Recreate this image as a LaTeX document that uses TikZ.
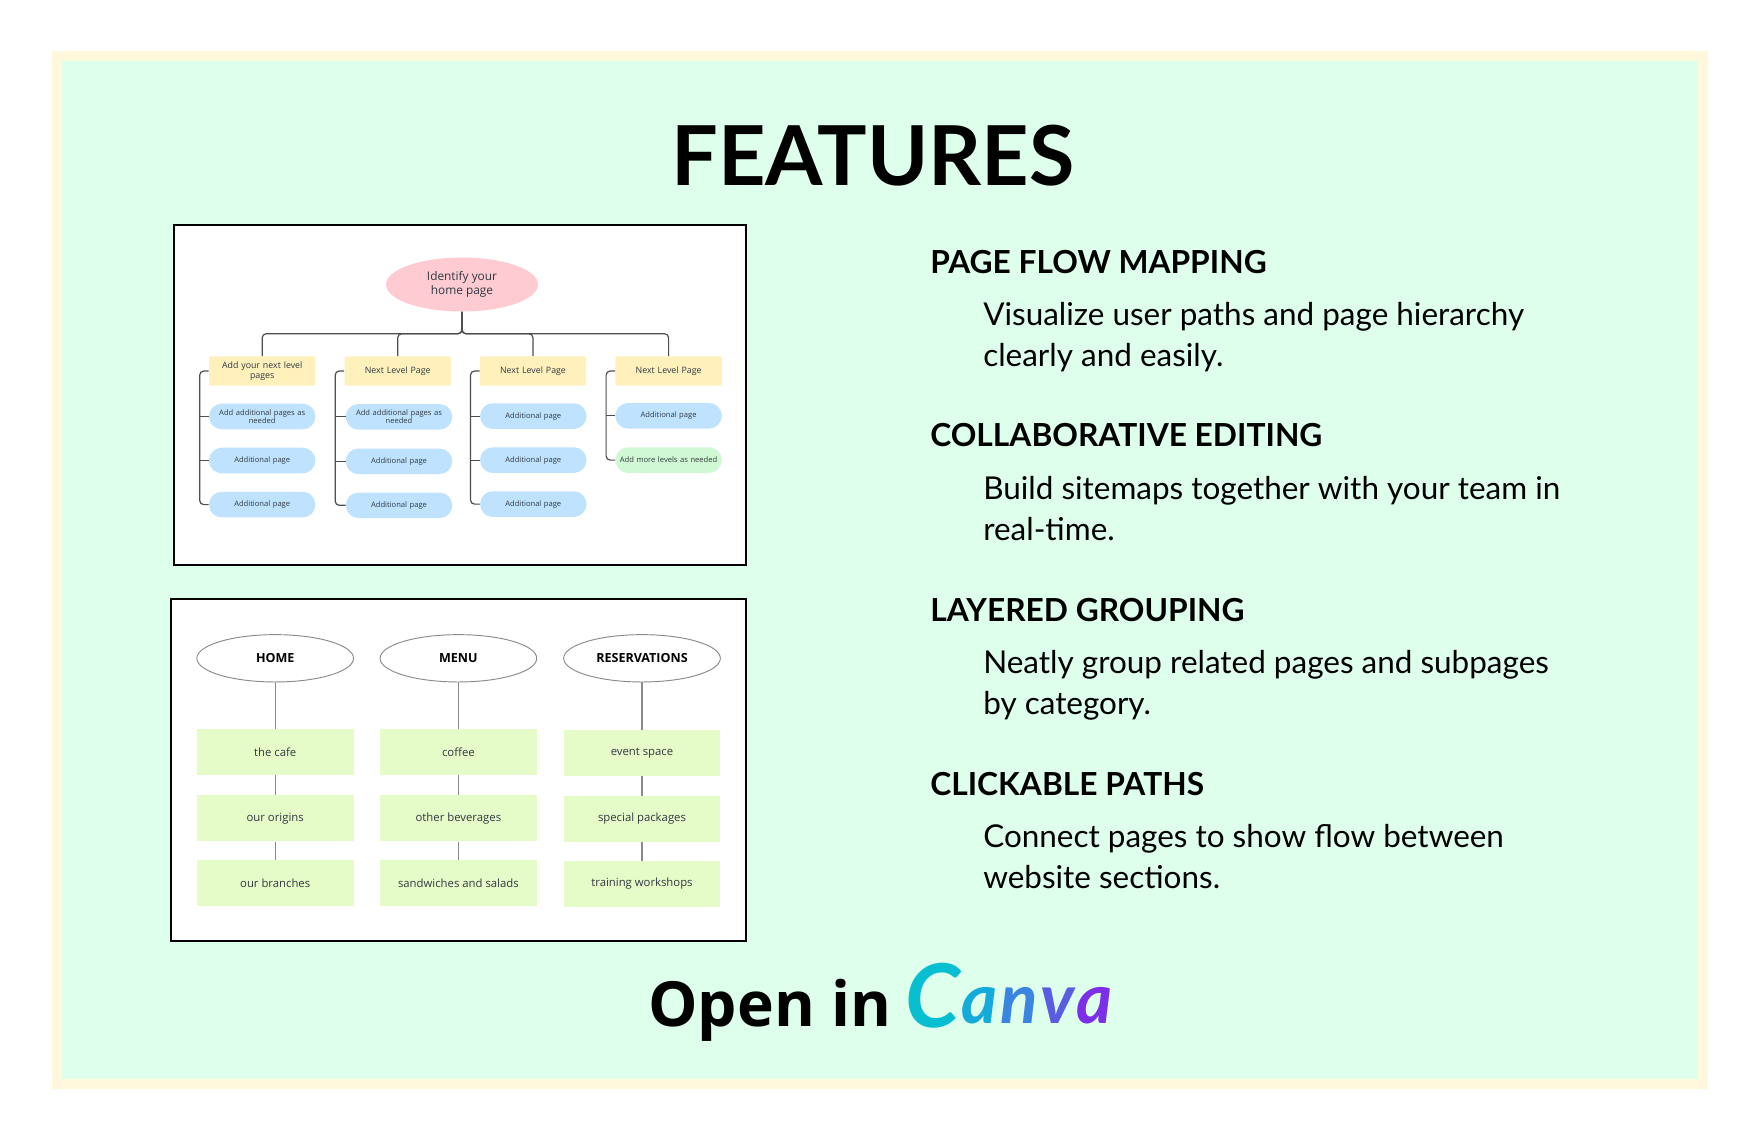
\documentclass[tikz,border=0pt]{standalone}
\usepackage{fontspec}
\setmainfont{Lato}
\newfontfamily\chartfont{Open Sans}
\usetikzlibrary{shapes.geometric}
\definecolor{framecream}{HTML}{FFF8DC}
\definecolor{panelmint}{HTML}{DDFFEC}
\definecolor{homepink}{HTML}{FFCBD2}
\definecolor{nextyellow}{HTML}{FFF0BC}
\definecolor{addblue}{HTML}{BFE3FF}
\definecolor{moregreen}{HTML}{D0F8D4}
\definecolor{listlime}{HTML}{E6FCC8}
\definecolor{chartink}{HTML}{2F3942}
\definecolor{linkgrey}{HTML}{4F4F4F}
\definecolor{stemgrey}{HTML}{8A8A8A}
\definecolor{canvaa}{HTML}{07BFD0}
\definecolor{canvab}{HTML}{14ABDA}
\definecolor{canvac}{HTML}{3A85E0}
\definecolor{canvad}{HTML}{5A5CE2}
\definecolor{canvae}{HTML}{7D2EE8}
\tikzset{
  heading/.style={anchor=mid west, inner sep=0pt, font=\fontsize{23.8}{29}\selectfont\bfseries},
  bodytext/.style={anchor=mid west, inner sep=0pt, align=left, font=\fontsize{23.6}{30.4}\selectfont},
  homeoval/.style={draw=none, fill=homepink, ellipse, inner sep=0pt, minimum width=114pt, minimum height=40.5pt, align=center, text=chartink, font=\chartfont\fontsize{8.9}{10}\selectfont},
  nextbox/.style={fill=nextyellow, rounded corners=1.5pt, minimum width=79.8pt, minimum height=22pt, inner sep=0pt, align=center, text width=76pt, text=chartink, font=\chartfont\fontsize{6.6}{7.6}\selectfont},
  addpill/.style={fill=addblue, rounded corners=9.5pt, minimum width=79.8pt, minimum height=19.2pt, inner sep=0pt, align=center, text width=76pt, text=chartink, font=\chartfont\fontsize{5.7}{6.4}\selectfont},
  morepill/.style={addpill, fill=moregreen},
  linkline/.style={draw=linkgrey, line width=0.9pt, rounded corners=3pt},
  sectionoval/.style={draw=stemgrey, fill=white, ellipse, line width=0.7pt, inner sep=0pt, minimum width=117.5pt, minimum height=35.5pt, text=black, font=\chartfont\fontsize{9.4}{10}\selectfont\bfseries},
  listbox/.style={fill=listlime, minimum width=117.5pt, minimum height=34.4pt, inner sep=0pt, text=chartink, font=\chartfont\fontsize{8.5}{9}\selectfont},
  stemline/.style={draw=stemgrey, line width=1pt},
  shotframe/.style={draw=black, fill=white, line width=1.5pt}
}
\begin{document}
\begin{tikzpicture}[x=0.75pt, y=-0.75pt]
\useasboundingbox (0,0) rectangle (1760,1140);
\fill[white] (0,0) rectangle (1760,1140);
\fill[framecream] (52,51) rectangle (1708,1089);
\fill[panelmint] (62,61) rectangle (1698,1079);

\node (title) at (873,155.5) [inner sep=0pt, font=\fontsize{62}{70}\selectfont\bfseries] {FEATURES};

% upper sitemap
\draw[shotframe] (174,224.5) rectangle (746,564.5);
\node (homepage) at (462,284.5) [homeoval] {Identify your\\home page};
\node (nexta) at (262.2,371) [nextbox] {Add your next level\\pages};
\node (nextb) at (397.7,371) [nextbox] {Next Level Page};
\node (nextc) at (533,371) [nextbox] {Next Level Page};
\node (nextd) at (668.6,371) [nextbox] {Next Level Page};
\node (addaa) at (262.2,416.5) [addpill] {Add additional pages as\\needed};
\node (addab) at (262.2,460.5) [addpill] {Additional page};
\node (addac) at (262.2,504.6) [addpill] {Additional page};
\node (addba) at (399,416.8) [addpill] {Add additional pages as\\needed};
\node (addbb) at (399,461.3) [addpill] {Additional page};
\node (addbc) at (399,505.3) [addpill] {Additional page};
\node (addca) at (533.3,416.1) [addpill] {Additional page};
\node (addcb) at (533.3,460.1) [addpill] {Additional page};
\node (addcc) at (533.3,504.1) [addpill] {Additional page};
\node (addda) at (668.6,415.8) [addpill] {Additional page};
\node (adddb) at (668.6,460.1) [morepill] {Add more levels as needed};
\draw[linkline] (homepage.south) -- ++(0,22) -| (nexta.north);
\draw[linkline] (homepage.south) -- ++(0,22) -| (nextb.north);
\draw[linkline] (homepage.south) -- ++(0,22) -| (nextc.north);
\draw[linkline] (homepage.south) -- ++(0,22) -| (nextd.north);
\draw[linkline] (nexta.west) -- ++(-9,0) |- (addac.west);
\draw[linkline] (nextb.west) -- ++(-9,0) |- (addbc.west);
\draw[linkline] (nextc.west) -- ++(-9,0) |- (addcc.west);
\draw[linkline] (nextd.west) -- ++(-9,0) |- (adddb.west);
\draw[linkline] (addaa.west) -- ++(-9,0);
\draw[linkline] (addab.west) -- ++(-9,0);
\draw[linkline] (addba.west) -- ++(-10,0);
\draw[linkline] (addbb.west) -- ++(-10,0);
\draw[linkline] (addca.west) -- ++(-9,0);
\draw[linkline] (addcb.west) -- ++(-9,0);
\draw[linkline] (addda.west) -- ++(-9,0);

% lower sitemap
\draw[shotframe] (170.5,598.5) rectangle (746,940.5);
\node (home) at (275.2,658.3) [sectionoval] {HOME};
\node (menu) at (458.4,658.3) [sectionoval] {MENU};
\node (reservations) at (642,658.3) [sectionoval] {RESERVATIONS};
\node (cafe) at (275.2,752) [listbox] {the cafe};
\node (origins) at (275.2,818.3) [listbox] {our origins};
\node (branches) at (275.2,883) [listbox] {our branches};
\node (coffee) at (458.4,752) [listbox] {coffee};
\node (beverages) at (458.4,818.3) [listbox] {other beverages};
\node (sandwiches) at (458.4,883) [listbox] {sandwiches and salads};
\node (eventspace) at (642,752.7) [listbox] {event space};
\node (packages) at (642,819) [listbox] {special packages};
\node (workshops) at (642,883.8) [listbox] {training workshops};
\draw[stemline] (home) -- (cafe);
\draw[stemline] (cafe) -- (origins);
\draw[stemline] (origins) -- (branches);
\draw[stemline] (menu) -- (coffee);
\draw[stemline] (coffee) -- (beverages);
\draw[stemline] (beverages) -- (sandwiches);
\draw[stemline] (reservations) -- (eventspace);
\draw[stemline] (eventspace) -- (packages);
\draw[stemline] (packages) -- (workshops);

% feature list
\node (flowhead) at (930,270) [heading] {PAGE FLOW MAPPING};
\node (flowtext) at (983,363) [bodytext] {Visualize user paths and page hierarchy\\clearly and easily.};
\node (editinghead) at (930,443) [heading] {COLLABORATIVE EDITING};
\node (editingtext) at (983,537) [bodytext] {Build sitemaps together with your team in\\real-time.};
\node (groupinghead) at (930,618) [heading] {LAYERED GROUPING};
\node (groupingtext) at (983,711) [bodytext] {Neatly group related pages and subpages\\by category.};
\node (pathshead) at (930,792) [heading] {CLICKABLE PATHS};
\node (pathstext) at (983,885) [bodytext] {Connect pages to show flow between\\website sections.};

\node (openin) at (648,1026) [anchor=base west, inner sep=0pt, font=\chartfont\fontsize{46.7}{52}\selectfont\bfseries] {Open in};
\node (canva) at (905,1023) [anchor=base west, inner sep=0pt, font=\fontsize{52}{60}\selectfont\bfseries\itshape] {{\color{canvaa}\fontsize{66}{66}\selectfont\lower3pt\hbox{C}}\kern1pt{\color{canvab}a}\kern2pt{\color{canvac}n}\kern2pt{\color{canvad}v}\kern2pt{\color{canvae}a}};
\end{tikzpicture}
\end{document}
